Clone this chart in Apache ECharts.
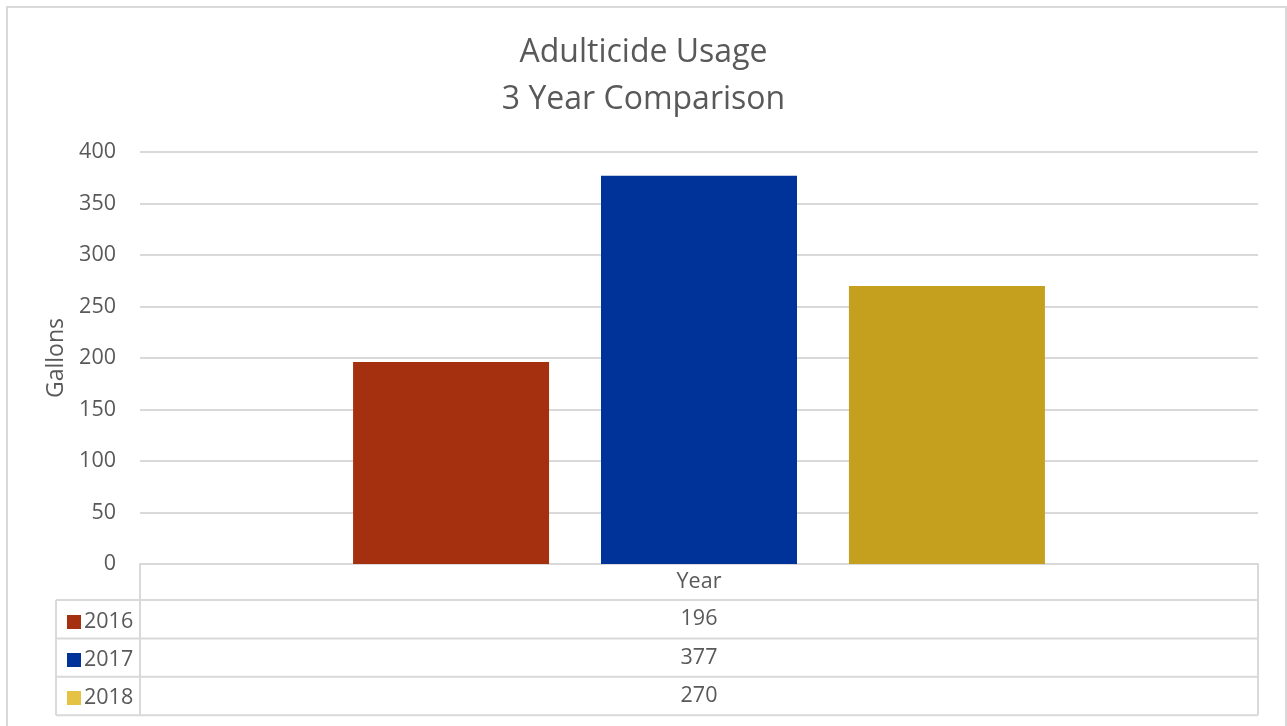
<!DOCTYPE html>
<html>
<head>
<meta charset="utf-8">
<title>Adulticide Usage</title>
<script src="https://cdn.jsdelivr.net/npm/echarts@6/dist/echarts.min.js"></script>
<style>
  html, body { margin: 0; padding: 0; background: #ffffff; }
  #chart { width: 1287px; height: 726px; }
</style>
</head>
<body>
<div id="chart"></div>
<script>
// Data
const categories = ['Year'];
const seriesNames = ['2016', '2017', '2018'];
const gallons = [196, 377, 270];
const yTicks = { min: 0, max: 400, interval: 50 };

// Styling
const barColors = ['#A5300F', '#003399', '#C4A01E'];
const keyColors = ['#A5300F', '#003399', '#E6C244'];
const textColor = '#595959';
const lineColor = '#D9D9D9';
const FONT = 'Open Sans';
const LABEL_SIZE = 21.5;

// Plot area / data table layout
const GRID = { left: 140, right: 29, top: 152, bottom: 162 };
const W = 1287, H = 726;
const plotRight = W - GRID.right;
const axisY = H - GRID.bottom;
const headerH = 36;
const rowH = 38.4;
const keyColLeft = 56;

const chart = echarts.init(document.getElementById('chart'), null, { renderer: 'canvas' });

// Data table: grid lines and value cells, one row per series
const tableGraphics = [];
const tableBottom = axisY + headerH + rowH * seriesNames.length;
const line = (x1, y1, x2, y2) => ({
  type: 'line', silent: true,
  shape: { x1, y1, x2, y2 },
  style: { stroke: lineColor, lineWidth: 2 }
});
tableGraphics.push(line(GRID.left, axisY, GRID.left, tableBottom));
tableGraphics.push(line(plotRight, axisY, plotRight, tableBottom));
tableGraphics.push(line(keyColLeft, axisY + headerH, keyColLeft, tableBottom));
for (let i = 0; i <= seriesNames.length; i++) {
  const y = axisY + headerH + rowH * i;
  tableGraphics.push(line(keyColLeft, y, plotRight, y));
}
gallons.forEach((v, i) => {
  tableGraphics.push({
    type: 'text', silent: true,
    x: (GRID.left + plotRight) / 2,
    y: axisY + headerH + rowH * i + rowH / 2,
    style: {
      text: String(v), fill: textColor, font: LABEL_SIZE + 'px "' + FONT + '"',
      align: 'center', verticalAlign: 'middle'
    }
  });
});
// Chart frame
tableGraphics.push({
  type: 'rect', silent: true, z: -1,
  shape: { x: 7, y: 7, width: W - 8, height: H + 20 },
  style: { fill: 'none', stroke: lineColor, lineWidth: 2 }
});

chart.setOption({
  animation: false,
  backgroundColor: '#ffffff',
  textStyle: { fontFamily: FONT },
  title: {
    text: 'Adulticide Usage\n3 Year Comparison',
    left: 'center',
    top: 24,
    textStyle: {
      fontFamily: FONT, fontSize: 32, fontWeight: 'normal',
      color: textColor, lineHeight: 47
    }
  },
  legend: {
    orient: 'vertical',
    left: 62,
    top: axisY + headerH + 5,
    itemWidth: 14,
    itemHeight: 14,
    itemGap: 14,
    selectedMode: false,
    icon: 'rect',
    textStyle: { fontFamily: FONT, fontSize: LABEL_SIZE, color: textColor, lineHeight: 24, padding: [0, 0, 0, -2] },
    data: seriesNames.map((n, i) => ({ name: n, itemStyle: { color: keyColors[i] } }))
  },
  grid: { left: GRID.left, right: GRID.right, top: GRID.top, bottom: GRID.bottom, containLabel: false },
  xAxis: {
    type: 'category',
    data: categories,
    axisLine: { show: true, lineStyle: { color: lineColor, width: 2 } },
    axisTick: { show: false },
    axisLabel: { fontFamily: FONT, fontSize: LABEL_SIZE, color: textColor, margin: 7 },
    splitLine: { show: false }
  },
  yAxis: {
    type: 'value',
    min: yTicks.min,
    max: yTicks.max,
    interval: yTicks.interval,
    name: 'Gallons',
    nameLocation: 'middle',
    nameRotate: 90,
    nameGap: 70,
    nameTextStyle: { fontFamily: FONT, fontSize: 23, color: textColor },
    axisLine: { show: false },
    axisTick: { show: false },
    axisLabel: { fontFamily: FONT, fontSize: LABEL_SIZE, color: textColor, margin: 24 },
    splitLine: { lineStyle: { color: lineColor, width: 2 } }
  },
  series: seriesNames.map((n, i) => ({
    name: n,
    type: 'bar',
    data: [gallons[i]],
    barWidth: 196,
    barGap: '26.5%',
    itemStyle: { color: barColors[i] }
  })),
  graphic: tableGraphics
});
</script>
</body>
</html>
